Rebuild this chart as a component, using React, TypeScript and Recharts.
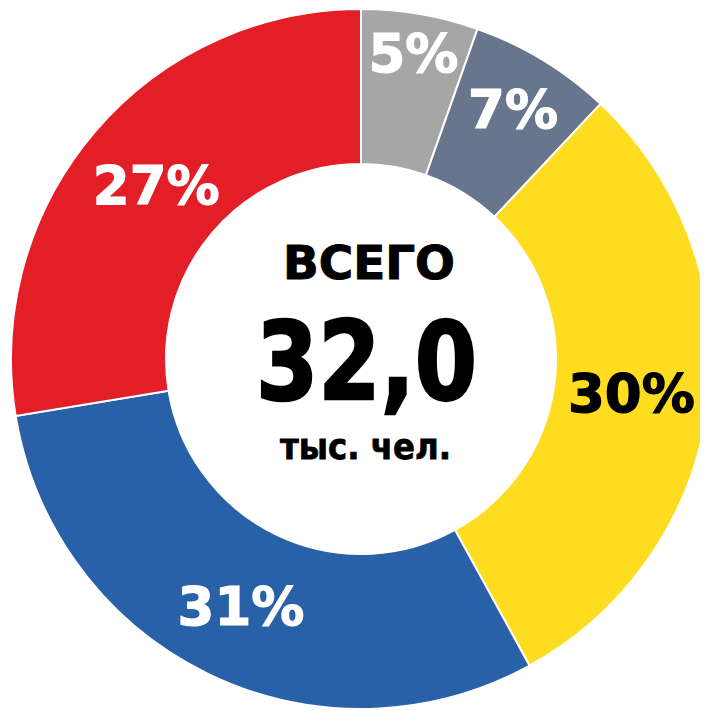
import React from "react";
import { PieChart, Pie, Cell } from "recharts";

// Share of total, %
const categories = ["Серый", "Серо-синий", "Жёлтый", "Синий", "Красный"];
const shares = [5.4, 6.6, 30.0, 30.4, 27.6];
const shareLabels = ["5%", "7%", "30%", "31%", "27%"];
const totalCaption = "ВСЕГО";
const totalValue = "32,0";
const totalUnit = "тыс. чел.";

const COLORS = ["#A6A6A6", "#68768D", "#FEDD20", "#2961A8", "#E31E26"];
const LABEL_COLORS = ["#FFFFFF", "#FFFFFF", "#000000", "#FFFFFF", "#FFFFFF"];
const LABEL_PUSH = [38, 20, 0, 2, -4];

const data = categories.map((name, i) => ({ name, value: shares[i], label: shareLabels[i] }));

const W = 700;
const H = 702;
const CX = 353;
const CY = 351;
const INNER = 195;
const OUTER = 350;
const FONT = "'DejaVu Sans', Verdana, sans-serif";
const RAD = Math.PI / 180;

const renderLabel = (props: any) => {
  const { cx, cy, midAngle, innerRadius, outerRadius, index } = props;
  const r = (innerRadius + outerRadius) / 2 + LABEL_PUSH[index];
  const x = cx + r * Math.cos(-midAngle * RAD);
  const y = cy + r * Math.sin(-midAngle * RAD);
  return (
    <text
      x={x}
      y={y + 19}
      textAnchor="middle"
      fill={LABEL_COLORS[index]}
      stroke={LABEL_COLORS[index]}
      strokeWidth={1.2}
      fontFamily={FONT}
      fontWeight="bold"
      fontSize={53}
    >
      {data[index].label}
    </text>
  );
};

export default function App() {
  return (
    <PieChart width={W} height={H} margin={{ top: 0, right: 0, bottom: 0, left: 0 }}>
      <Pie
        data={data}
        dataKey="value"
        nameKey="name"
        cx={CX}
        cy={CY}
        innerRadius={INNER}
        outerRadius={OUTER}
        startAngle={90}
        endAngle={-270}
        stroke="#FFFFFF"
        strokeWidth={2}
        label={renderLabel}
        labelLine={false}
        isAnimationActive={false}
      >
        {data.map((d, i) => (
          <Cell key={d.name} fill={COLORS[i]} />
        ))}
      </Pie>
      <text
        x={CX + 8}
        y={CY - 80}
        textAnchor="middle"
        fontFamily={FONT}
        fontWeight="bold"
        fontSize={47}
        textLength={172}
        lengthAdjust="spacingAndGlyphs"
        fill="#000"
        stroke="#000"
        strokeWidth={1}
      >
        {totalCaption}
      </text>
      <text
        x={CX + 5.5}
        y={CY + 40}
        textAnchor="middle"
        fontFamily={FONT}
        fontWeight="bold"
        fontSize={108}
        textLength={221}
        lengthAdjust="spacingAndGlyphs"
        fill="#000"
        stroke="#000"
        strokeWidth={2.5}
      >
        {totalValue}
      </text>
      <text
        x={CX + 4.5}
        y={CY + 100}
        textAnchor="middle"
        fontFamily={FONT}
        fontWeight="bold"
        fontSize={36}
        textLength={171}
        lengthAdjust="spacingAndGlyphs"
        fill="#000"
        stroke="#000"
        strokeWidth={0.8}
      >
        {totalUnit}
      </text>
    </PieChart>
  );
}
